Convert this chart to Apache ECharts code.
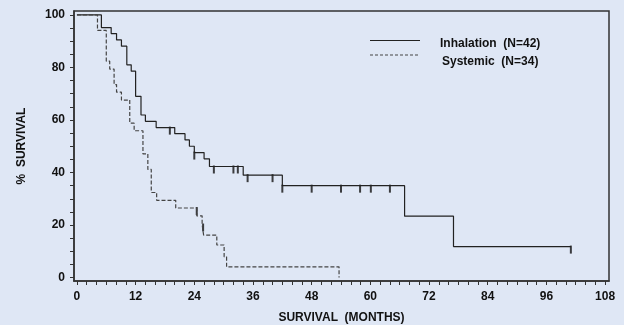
<!DOCTYPE html>
<html>
<head>
<meta charset="utf-8">
<script src="https://cdn.jsdelivr.net/npm/echarts@6/dist/echarts.min.js"></script>
<style>
html,body{margin:0;padding:0;background:#dfe7f5;}
#c{width:624px;height:325px;}
</style>
</head>
<body>
<div id="c"></div>
<script>
// Kaplan-Meier step data (months, % survival)
const inhTimes = [0, 5.0, 7.0, 8.1, 9.1, 10.2, 11.1, 12.0, 13.1, 14.0, 16.2, 20.0, 22.1, 23.0, 24.0, 26.0, 27.1, 34.0, 42.0, 67.0, 77.0, 101.0];
const inhSurv  = [100, 95.2, 92.9, 90.5, 88.1, 81.0, 78.6, 69.0, 61.9, 59.5, 57.1, 54.8, 52.4, 50.0, 47.6, 45.2, 42.3, 39.0, 35.0, 23.4, 11.8, 11.8];
const inhCensorT = [19.0, 24.0, 28.0, 32.0, 32.9, 34.9, 40.0, 42.0, 48.0, 54.0, 57.9, 60.1, 64.0, 101.0];
const inhCensorS = [57.1, 47.6, 42.3, 42.3, 42.3, 39.0, 39.0, 35.0, 35.0, 35.0, 35.0, 35.0, 35.0, 11.8];

const sysTimes = [0, 4.2, 6.0, 6.7, 7.6, 8.1, 9.1, 10.8, 11.7, 13.5, 14.5, 15.2, 16.3, 20.2, 24.5, 25.6, 25.9, 28.6, 30.1, 30.6, 53.6];
const sysSurv  = [100, 94.1, 82.4, 79.4, 73.5, 70.6, 67.6, 58.8, 55.9, 47.1, 41.2, 32.4, 29.4, 26.5, 23.5, 20.2, 16.2, 12.4, 7.9, 4.1, 0];
const sysCensorT = [24.5, 25.8];
const sysCensorS = [26.5, 20.2];

const xTickLabels = [0, 12, 24, 36, 48, 60, 72, 84, 96, 108];
const xTickMarks = [0,2,4,6,8,10,12,14,16,18,20,22,24,26,28,30,32,34,36,38,40,42,44,46,48,50,52,54,56,58,60,62,64,66,68,70,72,74,76,78,80,82,84,86,88,90,92,94,96,98,100,102,104,106,108];
const yTickLabels = [0, 20, 40, 60, 80, 100];
const yTickMarks = [0,5,10,15,20,25,30,35,40,45,50,55,60,65,70,75,80,85,90,95,100];

const legendLabels = ['Inhalation  (N=42)', 'Systemic  (N=34)'];

const zip = (a, b) => a.map((v, i) => [v, b[i]]);
const font = 'Liberation Sans, Arial, sans-serif';

const chart = echarts.init(document.getElementById('c'));
chart.setOption({
  backgroundColor: '#dfe7f5',
  animation: false,
  grid: {left: 74, right: 15, top: 11, bottom: 44, outerBoundsMode: 'none', containLabel: false,
         show: true, borderColor: '#333', borderWidth: 1.5, backgroundColor: 'transparent'},
  xAxis: {
    type: 'value', min: -0.6, max: 108.8,
    axisLine: {show: true, onZero: false, lineStyle: {color: '#333', width: 1.5}},
    axisTick: {show: true, inside: false, length: 4, customValues: xTickMarks, lineStyle: {color: '#333', width: 1}},
    splitLine: {show: false},
    axisLabel: {margin: 10, customValues: xTickLabels, color: '#111', fontFamily: font, fontWeight: 'bold', fontSize: 12},
    name: 'SURVIVAL  (MONTHS)', nameLocation: 'middle', nameGap: 31,
    nameTextStyle: {color: '#111', fontFamily: font, fontWeight: 'bold', fontSize: 12}
  },
  yAxis: {
    type: 'value', min: -1.3, max: 101.5,
    axisLine: {show: true, onZero: false, lineStyle: {color: '#333', width: 1.5}},
    axisTick: {show: true, inside: false, length: 4, customValues: yTickMarks, lineStyle: {color: '#333', width: 1}},
    splitLine: {show: false},
    axisLabel: {margin: 9, customValues: yTickLabels, color: '#111', fontFamily: font, fontWeight: 'bold', fontSize: 12},
    name: '%  SURVIVAL', nameLocation: 'middle', nameGap: 46, nameRotate: 90,
    nameTextStyle: {color: '#111', fontFamily: font, fontWeight: 'bold', fontSize: 12}
  },
  graphic: [
    {type: 'line', shape: {x1: 370, y1: 40.5, x2: 420, y2: 40.5}, style: {stroke: '#222', lineWidth: 1.2}},
    {type: 'line', shape: {x1: 370, y1: 55, x2: 420, y2: 55}, style: {stroke: '#444', lineWidth: 1.2, lineDash: [3, 2]}},
    {type: 'text', x: 440, y: 44, style: {text: legendLabels[0], fill: '#111', font: 'bold 12px ' + font, textVerticalAlign: 'middle'}},
    {type: 'text', x: 442, y: 61.5, style: {text: legendLabels[1], fill: '#111', font: 'bold 12px ' + font, textVerticalAlign: 'middle'}}
  ],
  series: [
    {type: 'line', step: 'end', data: zip(inhTimes, inhSurv), showSymbol: false,
     lineStyle: {color: '#222', width: 1.2}},
    {type: 'line', step: 'end', data: zip(sysTimes, sysSurv), showSymbol: false,
     lineStyle: {color: '#444', width: 1.2, type: [4, 2]}},
    {type: 'scatter', data: zip(inhCensorT, inhCensorS), symbol: 'rect', symbolSize: [2, 8], symbolOffset: [0, 3],
     itemStyle: {color: '#111'}},
    {type: 'scatter', data: zip(sysCensorT, sysCensorS), symbol: 'rect', symbolSize: [2, 8], symbolOffset: [0, 3],
     itemStyle: {color: '#111'}}
  ]
});
</script>
</body>
</html>
